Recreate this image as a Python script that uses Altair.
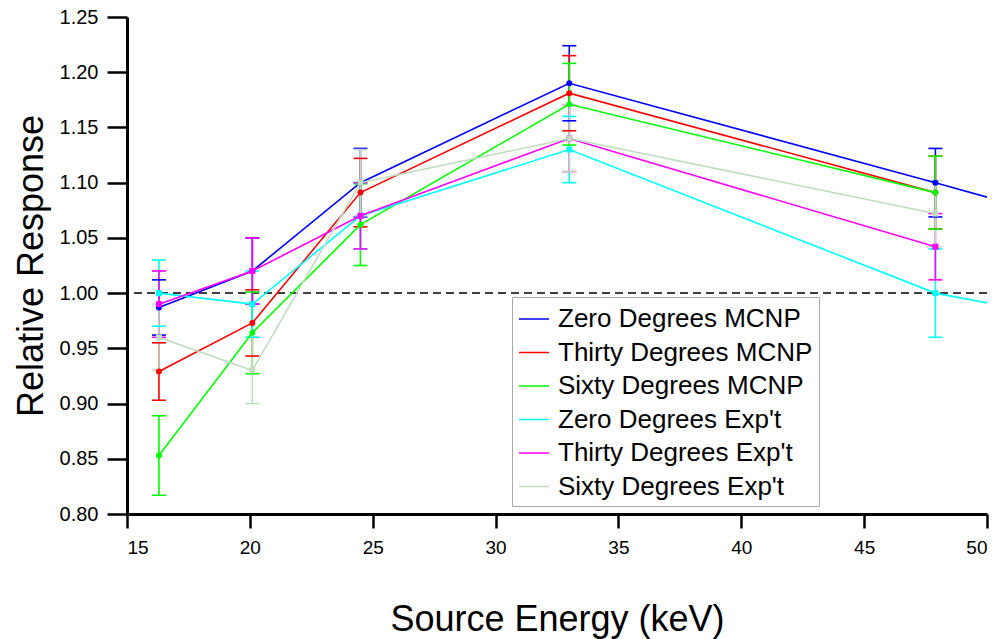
import altair as alt
import pandas as pd

# ---- data ----
energy = [16.3, 20.1, 24.5, 33.0, 47.9]
series_names = ["Zero Degrees MCNP", "Thirty Degrees MCNP", "Sixty Degrees MCNP",
                "Zero Degrees Exp't", "Thirty Degrees Exp't", "Sixty Degrees Exp't"]
series_colors = ["#0000FF", "#FF0000", "#00FF00", "#00FFFF", "#FF00FF", "#C0DCC0"]

zero_mcnp = [0.987, 1.020, 1.100, 1.190, 1.100]
zero_mcnp_err = [0.025, 0.030, 0.031, 0.034, 0.031]
thirty_mcnp = [0.929, 0.973, 1.091, 1.181, 1.091]
thirty_mcnp_err = [0.026, 0.030, 0.031, 0.034, 0.033]
sixty_mcnp = [0.853, 0.964, 1.062, 1.171, 1.091]
sixty_mcnp_err = [0.036, 0.037, 0.037, 0.037, 0.033]
zero_exp = [1.000, 0.990, 1.070, 1.130, 1.000]
zero_exp_err = [0.030, 0.030, 0.030, 0.030, 0.040]
thirty_exp = [0.990, 1.020, 1.070, 1.140, 1.042]
thirty_exp_err = [0.030, 0.030, 0.030, 0.030, 0.030]
sixty_exp = [0.960, 0.930, 1.100, 1.140, 1.072]
sixty_exp_err = [0.030, 0.030, 0.030, 0.030, 0.030]

# lines that continue past the right edge (clipped)
extra_energy = [59.5, 59.5]
extra_series = ["Zero Degrees MCNP", "Zero Degrees Exp't"]
extra_value = [1.028, 0.951]

values = [zero_mcnp, thirty_mcnp, sixty_mcnp, zero_exp, thirty_exp, sixty_exp]
errors = [zero_mcnp_err, thirty_mcnp_err, sixty_mcnp_err, zero_exp_err, thirty_exp_err, sixty_exp_err]

rows = []
for name, vals, errs in zip(series_names, values, errors):
    for e, v, er in zip(energy, vals, errs):
        rows.append({"series": name, "energy": e, "value": v, "lo": v - er, "hi": v + er,
                     "kind": "MCNP" if "MCNP" in name else "Exp"})
df = pd.DataFrame(rows)
line_df = pd.concat([df[["series", "energy", "value"]],
                     pd.DataFrame({"series": extra_series, "energy": extra_energy, "value": extra_value})],
                    ignore_index=True)

color_scale = alt.Scale(domain=series_names, range=series_colors)
xs = alt.Scale(domain=[15, 50], nice=False, zero=False)
ys = alt.Scale(domain=[0.80, 1.25], nice=False, zero=False)

legend = alt.Legend(title=None, symbolType="stroke", symbolSize=900, symbolStrokeWidth=1.5,
                    symbolOpacity=1, symbolFillColor="transparent")
col = alt.Color("series:N", scale=color_scale, sort=series_names, legend=legend)

x_enc = alt.X("energy:Q", scale=xs,
              axis=alt.Axis(values=[15, 20, 25, 30, 35, 40, 45, 50], format="d",
                            title="Source Energy (keV)", titlePadding=45, tickSize=14,
                            labelPadding=10, labelFontSize=19))
y_enc = alt.Y("value:Q", scale=ys,
              axis=alt.Axis(values=[0.80, 0.85, 0.90, 0.95, 1.00, 1.05, 1.10, 1.15, 1.20, 1.25],
                            format=".2f", title="Relative Response", titlePadding=9,
                            tickSize=20, labelPadding=9, labelFontSize=20))

base = alt.Chart(df)

ref = alt.Chart(pd.DataFrame({"y": [1.0]})).mark_rule(
    color="black", strokeDash=[8, 5], strokeWidth=1.5
).encode(y=alt.Y("y:Q", scale=ys))

bars = base.mark_rule(strokeWidth=1.6, clip=True).encode(
    x=x_enc, y=alt.Y("lo:Q", scale=ys), y2="hi:Q", color=col)

cap_hi = base.mark_rule(strokeWidth=1.6, xOffset=-7, x2Offset=7).encode(
    x=alt.X("energy:Q", scale=xs), x2="energy:Q", y=alt.Y("hi:Q", scale=ys), color=col)
cap_lo = base.mark_rule(strokeWidth=1.6, xOffset=-7, x2Offset=7).encode(
    x=alt.X("energy:Q", scale=xs), x2="energy:Q", y=alt.Y("lo:Q", scale=ys), color=col)

lines = alt.Chart(line_df).mark_line(strokeWidth=1.6, clip=True).encode(
    x=alt.X("energy:Q", scale=xs), y=alt.Y("value:Q", scale=ys), color=col,
    order="energy:Q")

pts_c = base.transform_filter(alt.datum.kind == "MCNP").mark_circle(size=36, opacity=1).encode(
    x=alt.X("energy:Q", scale=xs), y=alt.Y("value:Q", scale=ys), color=col)
pts_s = base.transform_filter(alt.datum.kind == "Exp").mark_square(size=36, opacity=1).encode(
    x=alt.X("energy:Q", scale=xs), y=alt.Y("value:Q", scale=ys), color=col)

axes = alt.Chart(df).mark_point(opacity=0).encode(x=x_enc, y=y_enc)

chart = alt.layer(axes, ref, bars, cap_hi, cap_lo, lines, pts_c, pts_s).properties(
    width=860, height=497,
    autosize=alt.AutoSizeParams(type="none"),
    padding={"left": 127, "top": 17, "right": 13, "bottom": 125},
    background="white",
).configure_view(stroke=None).configure_axis(
    grid=False, domainColor="black", domainWidth=3, tickColor="black", tickWidth=2.5,
    labelFont="Liberation Sans", labelColor="black",
    titleFont="Liberation Sans", titleFontSize=36,
    titleFontWeight="normal", titleColor="black",
).configure_legend(
    orient="none", legendX=385, legendY=280, strokeColor="#aaaaaa", fillColor="white",
    padding=6, labelFont="Liberation Sans", labelFontSize=26, labelColor="black",
    labelOffset=8, rowPadding=4.5, labelLimit=400,
)

chart.save("out.html", embed_options={"renderer": "svg", "actions": False})
